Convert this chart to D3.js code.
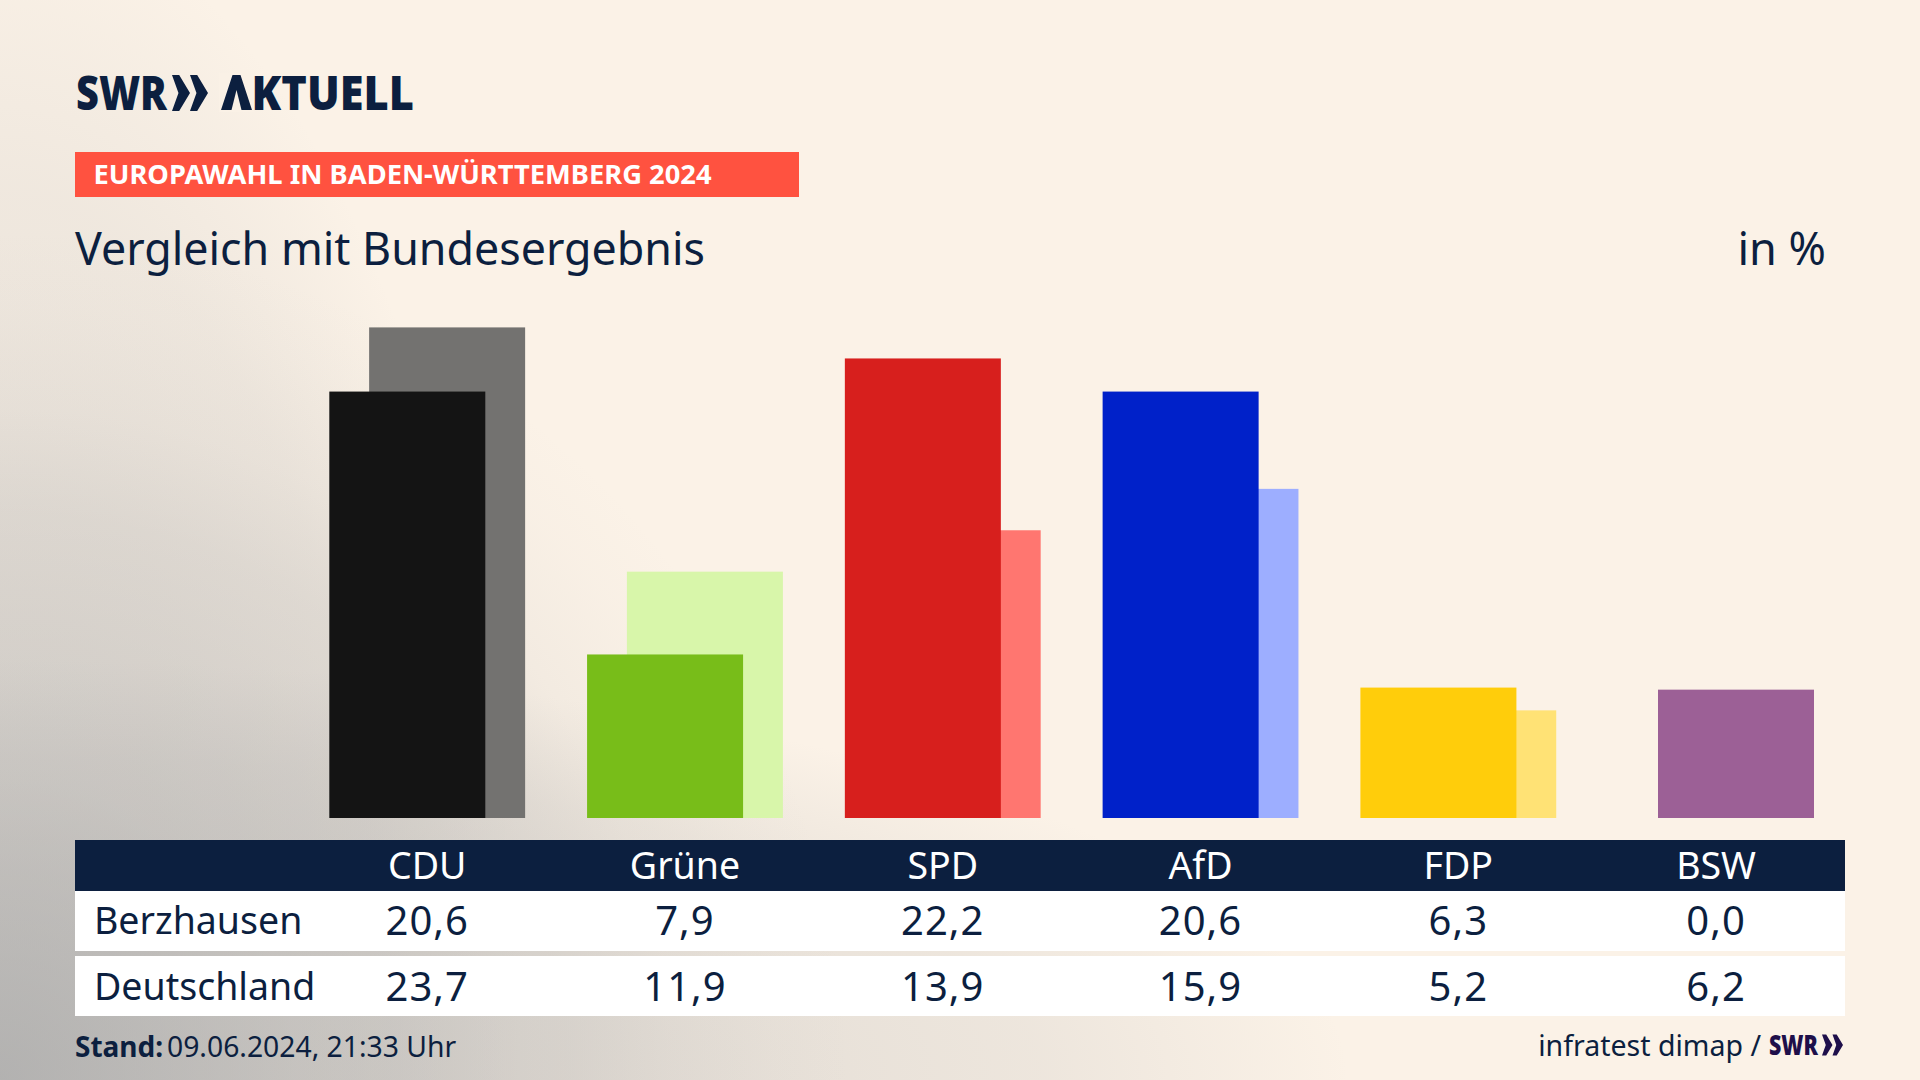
<!DOCTYPE html>
<html lang="de"><head><meta charset="utf-8">
<script src="https://cdnjs.cloudflare.com/ajax/libs/d3/7.8.5/d3.min.js"></script>
<style>
html,body{margin:0;padding:0;width:1920px;height:1080px;overflow:hidden}
body{background:
 radial-gradient(circle 850px at 0px 1080px,rgba(170,170,170,.8) 0,rgba(170,170,170,.42) 300px,rgba(170,170,170,.24) 567px,rgba(170,170,170,.1) 672px,rgba(170,170,170,.03) 776px,rgba(170,170,170,0) 850px),
 radial-gradient(ellipse 1350px 420px at 0px 1080px,rgba(170,170,170,.3) 0,rgba(170,170,170,.27) 50%,rgba(170,170,170,.17) 77%,rgba(170,170,170,0) 100%),
 radial-gradient(ellipse 520px 1180px at 0px 1080px,rgba(170,170,170,.24) 0,rgba(170,170,170,.19) 50%,rgba(170,170,170,.14) 75%,rgba(170,170,170,0) 100%),
 #fbf2e7}
svg{display:block}
text{font-family:"Noto Sans",sans-serif;fill:#0c1f3f}
</style></head><body><svg id="c" width="1920" height="1080"></svg>
<script>
const parties=["CDU","Grüne","SPD","AfD","FDP","BSW"];
const berzhausen=[20.6,7.9,22.2,20.6,6.3,0.0];
const deutschland=[23.7,11.9,13.9,15.9,5.2,6.2];
const frontColors=["#141414","#78bd19","#d71f1d","#0021c9","#ffcd0b","#9c6096"];
const backColors=["#737270","#d8f6aa","#ff7670","#9daeff","#ffe275","#9c6096"];
const rowLabels=["Berzhausen","Deutschland"];
const fmt=v=>v.toFixed(1).replace(".",",");

const svg=d3.select("#c");
const navy="#0c1f3f";
const x=d3.scaleBand().domain(parties).range([329.3,1814]).paddingInner(62/258).paddingOuter(0);
const y=d3.scaleLinear().domain([0,23.7]).range([818,327.4]);
const barW=156, off=x.bandwidth()-barW;

// Logo
function chevrons(g,x0,top,h,color){
  const w=h*0.5;
  [0,h*0.5].forEach(dx=>{
    const l=x0+dx;
    g.append("path").attr("fill",color)
     .attr("d",`M${l},${top}L${l+w*0.4},${top}L${l+w},${top+h*0.5}L${l+w*0.4},${top+h}L${l},${top+h}L${l+w*0.36},${top+h*0.5}Z`);
  });
}
svg.append("text").attr("x",76).attr("y",110).attr("font-size",48).attr("font-weight",900)
  .attr("textLength",91).attr("lengthAdjust","spacingAndGlyphs").text("SWR");
chevrons(svg,172,75,36,navy);
svg.append("text").attr("x",220).attr("y",110).attr("font-size",48).attr("font-weight",900)
  .attr("textLength",194).attr("lengthAdjust","spacingAndGlyphs").text("AKTUELL");
// the logo's A has no crossbar: mask the glyph and draw the logo form over it
svg.append("rect").attr("x",219).attr("y",73).attr("width",35).attr("height",39).attr("fill","#faf1e6");
svg.append("path").attr("fill",navy).attr("d","M221,110L232.5,75L240.5,75L252,110L241.5,110L236.5,90L231.5,110Z");

// Banner
svg.append("rect").attr("x",75).attr("y",152).attr("width",724).attr("height",45).attr("fill","#ff5240");
svg.append("text").attr("x",93.5).attr("y",184).attr("font-size",26).attr("font-weight",700)
  .style("fill","#fff").attr("textLength",618).attr("lengthAdjust","spacingAndGlyphs")
  .text("EUROPAWAHL IN BADEN-WÜRTTEMBERG 2024");

// Title
svg.append("text").attr("x",75).attr("y",264.5).attr("font-size",45).attr("textLength",630).attr("lengthAdjust","spacingAndGlyphs").text("Vergleich mit Bundesergebnis");
svg.append("text").attr("x",1826).attr("y",264.5).attr("font-size",45).attr("text-anchor","end").text("in %");

// Bars
const bars=svg.append("g");
bars.selectAll("rect.back").data(parties).join("rect").attr("class","back")
  .attr("x",d=>x(d)+off).attr("width",barW)
  .attr("y",(d,i)=>y(deutschland[i])).attr("height",(d,i)=>y(0)-y(deutschland[i]))
  .attr("fill",(d,i)=>backColors[i]);
bars.selectAll("rect.front").data(parties).join("rect").attr("class","front")
  .attr("x",d=>x(d)).attr("width",barW)
  .attr("y",(d,i)=>y(berzhausen[i])).attr("height",(d,i)=>y(0)-y(berzhausen[i]))
  .attr("fill",(d,i)=>frontColors[i]);

// Table
const cx=d=>x(d)+x.bandwidth()/2;
svg.append("rect").attr("x",75).attr("y",840).attr("width",1770).attr("height",51).attr("fill",navy);
svg.append("rect").attr("x",75).attr("y",891).attr("width",1770).attr("height",60).attr("fill","#fff");
svg.append("rect").attr("x",75).attr("y",956).attr("width",1770).attr("height",60).attr("fill","#fff");
svg.selectAll("text.h").data(parties).join("text").attr("class","h")
  .attr("x",cx).attr("y",879).attr("font-size",37.5).attr("text-anchor","middle").style("fill","#fff").text(d=>d);
[berzhausen,deutschland].forEach((vals,r)=>{
  const by=[934,1000][r];
  svg.append("text").attr("x",94).attr("y",by).attr("font-size",37.5).text(rowLabels[r]);
  svg.selectAll("text.v"+r).data(parties).join("text").attr("class","v"+r)
    .attr("x",cx).attr("y",by+1).attr("font-size",40).attr("letter-spacing",1).attr("text-anchor","middle")
    .text((d,i)=>fmt(vals[i]));
});

// Footer
svg.append("text").attr("x",75).attr("y",1057).attr("font-size",28).attr("font-weight",700).text("Stand:");
svg.append("text").attr("x",167).attr("y",1057).attr("font-size",28.3).text("09.06.2024, 21:33 Uhr");
svg.append("text").attr("x",1761).attr("y",1056).attr("font-size",28.5).attr("text-anchor","end").text("infratest dimap /");
svg.append("text").attr("x",1769).attr("y",1055).attr("font-size",28).attr("font-weight",900).style("fill","#1e0f4a")
  .attr("textLength",49).attr("lengthAdjust","spacingAndGlyphs").text("SWR");
chevrons(svg,1822,1034.5,21,"#1e0f4a");
</script></body></html>
